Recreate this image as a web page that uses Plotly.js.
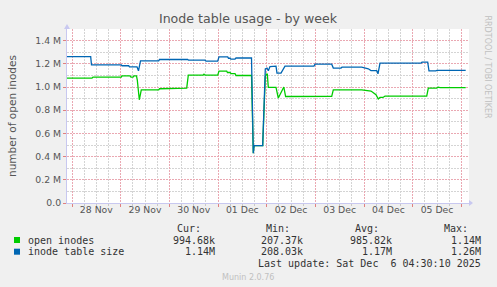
<!DOCTYPE html>
<html><head><meta charset="utf-8">
<script src="https://cdn.plot.ly/plotly-3.0.1.min.js"></script>
<style>html,body{margin:0;padding:0;background:#f0f0f0;}</style>
</head><body><div id="chart" style="width:497px;height:287px;"></div>
<script>
// ---- data ----
const greenTimes = ['2025-11-27 21:32','2025-11-28 09:52','2025-11-28 10:21','2025-11-29 00:19','2025-11-29 00:40','2025-11-29 04:36','2025-11-29 05:05','2025-11-29 06:05','2025-11-29 06:34','2025-11-29 07:48','2025-11-29 08:12','2025-11-29 09:11','2025-11-29 10:10','2025-11-29 18:45','2025-11-29 19:09','2025-11-30 08:34','2025-11-30 09:21','2025-11-30 16:36','2025-11-30 17:05','2025-11-30 17:35','2025-11-30 23:51','2025-12-01 00:29','2025-12-01 04:17','2025-12-01 04:41','2025-12-01 05:55','2025-12-01 06:24','2025-12-01 08:23','2025-12-01 08:52','2025-12-01 16:31','2025-12-01 17:24','2025-12-01 17:45','2025-12-01 22:02','2025-12-01 23:19','2025-12-01 23:49','2025-12-02 00:19','2025-12-02 00:48','2025-12-02 04:36','2025-12-02 05:44','2025-12-02 08:27','2025-12-02 09:20','2025-12-03 08:04','2025-12-03 08:51','2025-12-03 22:51','2025-12-04 00:29','2025-12-04 03:26','2025-12-04 04:26','2025-12-04 05:55','2025-12-04 07:02','2025-12-04 07:53','2025-12-04 09:22','2025-12-04 10:21','2025-12-05 06:55','2025-12-05 07:42','2025-12-05 11:50','2025-12-05 12:38','2025-12-05 13:28','2025-12-06 02:08'];
const greenValues = [1076000,1076000,1085000,1085000,1096000,1096000,1085000,1085000,1096000,1096000,1060000,890000,976000,976000,985000,990000,1102000,1102000,1110000,1102000,1102000,1137000,1137000,1125000,1125000,1116000,1116000,1099000,1099000,430000,494000,494000,1090000,1110000,1110000,996000,996000,905000,1000000,918000,920000,976000,976000,970000,965000,953000,933000,896000,910000,910000,922000,922000,990000,990000,998000,995000,995000];
const blueTimes = ['2025-11-27 21:32','2025-11-28 09:13','2025-11-28 09:37','2025-11-29 00:19','2025-11-29 00:40','2025-11-29 03:58','2025-11-29 04:21','2025-11-29 08:03','2025-11-29 08:47','2025-11-29 09:47','2025-11-29 18:45','2025-11-29 19:09','2025-11-30 09:03','2025-11-30 09:27','2025-11-30 17:35','2025-11-30 18:05','2025-11-30 23:51','2025-12-01 00:29','2025-12-01 04:47','2025-12-01 05:10','2025-12-01 05:55','2025-12-01 06:24','2025-12-01 08:23','2025-12-01 08:52','2025-12-01 16:31','2025-12-01 17:24','2025-12-01 17:45','2025-12-01 22:02','2025-12-01 23:19','2025-12-02 00:10','2025-12-02 00:48','2025-12-02 01:38','2025-12-02 04:36','2025-12-02 05:05','2025-12-02 07:04','2025-12-02 09:02','2025-12-02 23:20','2025-12-02 23:50','2025-12-03 08:04','2025-12-03 08:51','2025-12-03 12:39','2025-12-03 13:08','2025-12-03 22:51','2025-12-04 00:29','2025-12-04 02:07','2025-12-04 03:26','2025-12-04 06:15','2025-12-04 06:53','2025-12-04 07:53','2025-12-05 04:06','2025-12-05 04:35','2025-12-05 07:24','2025-12-05 08:02','2025-12-05 11:21','2025-12-05 11:59','2025-12-06 02:08'];
const blueValues = [1262000,1262000,1190000,1190000,1183000,1183000,1174000,1174000,1140000,1225000,1225000,1237000,1237000,1231000,1231000,1223000,1223000,1260000,1260000,1248000,1248000,1240000,1240000,1250000,1250000,430000,494000,494000,1156000,1163000,1140000,1176000,1180000,1120000,1120000,1180000,1180000,1197000,1197000,1163000,1163000,1171000,1171000,1163000,1157000,1142000,1142000,1113000,1205000,1205000,1214000,1214000,1139000,1139000,1143000,1143000];

const seriesNames = ['open inodes','inode table size'];
const seriesColors = ['#00cc00','#0066b3'];
const statHeaders = ['Cur:','Min:','Avg:','Max:'];
const statsGreen = ['994.68k','207.37k','985.82k','1.14M'];
const statsBlue = ['1.14M','208.03k','1.17M','1.26M'];

const dayMidnights = ['2025-11-28','2025-11-29','2025-11-30','2025-12-01','2025-12-02','2025-12-03','2025-12-04','2025-12-05','2025-12-06'];
const dayLabelDates = ['2025-11-28','2025-11-29','2025-11-30','2025-12-01','2025-12-02','2025-12-03','2025-12-04','2025-12-05'];
const dayLabels = ['28 Nov','29 Nov','30 Nov','01 Dec','02 Dec','03 Dec','04 Dec','05 Dec'];
const yTickVals = [0,200000,400000,600000,800000,1000000,1200000,1400000];
const yTickText = ['0.0','0.2 M','0.4 M','0.6 M','0.8 M','1.0 M','1.2 M','1.4 M'];

const xRange = ['2025-11-27 21:32','2025-12-06 03:46'];
const titleText = 'Inode table usage - by week';
const yTitle = 'number of open inodes';
const lastUpdate = 'Last update: Sat Dec  6 04:30:10 2025';

// ---- layout helpers (pixel -> paper) ----
const W=497, H=287, L=67, R=469, T=29, B=203;
const px = x => (x-L)/(R-L);
const py = y => (B-y)/(B-T);
const mono = {family:'DejaVu Sans Mono', size:10, color:'#333'};
const sans = 'DejaVu Sans';
const majorGrid = '#eaa8b2';
const minorGrid = '#d4d4d4';
const gridDash = '2px,1px';

const traces = [
  {x:greenTimes, y:greenValues, type:'scatter', mode:'lines', name:seriesNames[0], xaxis:'x', yaxis:'y',
   line:{color:seriesColors[0], width:1.3}, hoverinfo:'skip'},
  {x:blueTimes, y:blueValues, type:'scatter', mode:'lines', name:seriesNames[1], xaxis:'x2', yaxis:'y',
   line:{color:seriesColors[1], width:1.3}, hoverinfo:'skip'}
];

const annotations = [];
const shapes = [];
const headerRight = [203, 292, 381, 470];
const valueRight = [216.7, 305, 394, 482.7];
statHeaders.forEach((h,i)=>annotations.push({xref:'paper',yref:'paper',x:px(headerRight[i]),y:py(228),xanchor:'right',yanchor:'middle',text:h,showarrow:false,font:mono}));
[[statsGreen,240],[statsBlue,251.7]].forEach(([vals,yy],r)=>{
  annotations.push({xref:'paper',yref:'paper',x:px(26),y:py(yy),xanchor:'left',yanchor:'middle',text:seriesNames[r],showarrow:false,font:mono});
  vals.forEach((v,i)=>annotations.push({xref:'paper',yref:'paper',x:px(valueRight[i]),y:py(yy),xanchor:'right',yanchor:'middle',text:v,showarrow:false,font:mono}));
  shapes.push({type:'rect',xref:'paper',yref:'paper',x0:px(14),x1:px(20),y0:py(yy-3),y1:py(yy+3),fillcolor:seriesColors[r],line:{width:0}});
});
annotations.push({xref:'paper',yref:'paper',x:px(483),y:py(263.3),xanchor:'right',yanchor:'middle',text:lastUpdate.replace(/  /g,' &nbsp;'),showarrow:false,font:mono});
annotations.push({xref:'paper',yref:'paper',x:px(248),y:py(277),xanchor:'center',yanchor:'middle',text:'Munin 2.0.76',showarrow:false,font:{family:sans,size:8,color:'#c0c0c0'}});
annotations.push({xref:'paper',yref:'paper',x:px(487),y:py(14),xanchor:'center',yanchor:'top',text:'RRDTOOL / TOBI OETIKER',textangle:90,showarrow:false,font:{family:sans,size:8,color:'#c0c0c0'}});
shapes.push({type:'path',xref:'paper',yref:'paper',path:`M ${px(469)} ${py(200)} L ${px(473)} ${py(203)} L ${px(469)} ${py(206)} Z`,fillcolor:'#c8c8f0',line:{width:0}});
shapes.push({type:'path',xref:'paper',yref:'paper',path:`M ${px(64)} ${py(29)} L ${px(67)} ${py(24)} L ${px(70)} ${py(29)} Z`,fillcolor:'#c8c8f0',line:{width:0}});

const layout = {
  width:W, height:H, paper_bgcolor:'#f0f0f0', plot_bgcolor:'#ffffff',
  margin:{l:L, r:W-R, t:T, b:H-B, pad:0},
  showlegend:false,
  title:{text:titleText, xref:'container', yref:'container', x:248/W, y:1-19/H, xanchor:'center', yanchor:'middle',
         font:{family:sans, size:12.6, color:'#555'}},
  xaxis:{type:'date', range:xRange, tickvals:dayMidnights, ticktext:dayMidnights.map(()=>''),
         showgrid:true, gridcolor:majorGrid, griddash:gridDash, gridwidth:1,
         minor:{dtick:21600000, tick0:'2025-11-28', showgrid:true, gridcolor:minorGrid, griddash:gridDash, gridwidth:1,
                ticks:'outside', ticklen:2, tickcolor:'#c8c8c8'},
         ticks:'outside', ticklen:3, tickcolor:'#e08080',
         showline:true, linecolor:'#c8c8f0', linewidth:1, zeroline:false, fixedrange:true},
  xaxis2:{type:'date', range:xRange, overlaying:'x', anchor:'y', side:'bottom',
          tickvals:dayLabelDates.map(d=>d+' 12:00'), ticktext:dayLabels, showgrid:false, ticks:'',
          showline:false, zeroline:false, tickfont:{family:sans, size:9.3, color:'#555'}, fixedrange:true},
  yaxis:{range:[0,1500000], tickvals:yTickVals, ticktext:yTickText,
         showgrid:true, gridcolor:majorGrid, griddash:gridDash, gridwidth:1,
         minor:{dtick:100000, showgrid:true, gridcolor:minorGrid, griddash:gridDash, gridwidth:1},
         ticks:'outside', ticklen:3, tickcolor:'#e08080',
         showline:true, linecolor:'#c8c8f0', linewidth:1, zeroline:false,
         tickfont:{family:sans, size:9.3, color:'#555'},
         title:{text:yTitle, font:{family:sans, size:10.5, color:'#555'}, standoff:16}, fixedrange:true},
  annotations, shapes
};

Plotly.newPlot('chart', traces, layout, {staticPlot:true, displayModeBar:false});
</script></body></html>
